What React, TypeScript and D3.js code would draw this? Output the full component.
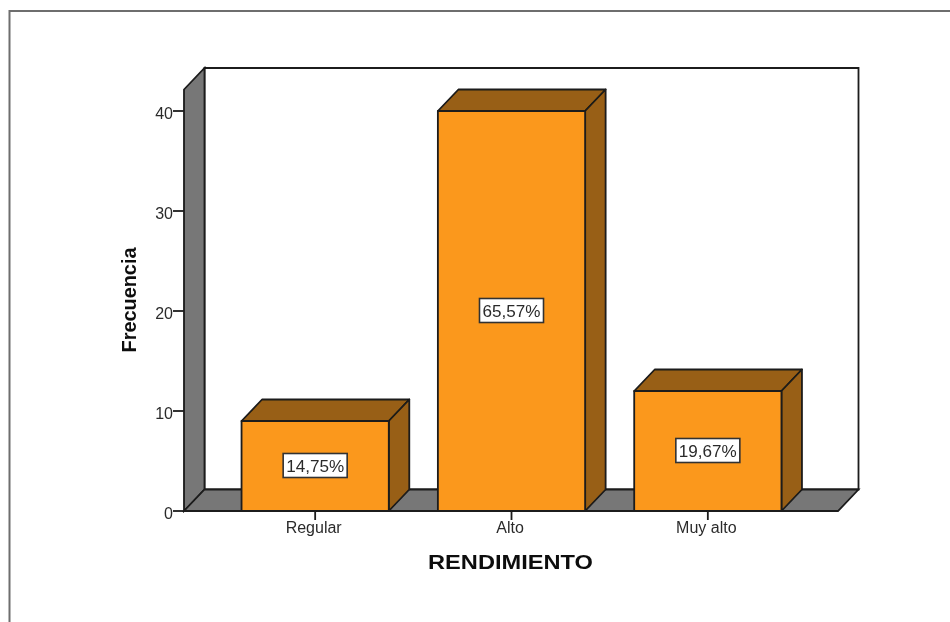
import * as d3 from 'd3'

const categories = ['Regular', 'Alto', 'Muy alto']
const frequencies = [9, 40, 12]
const percentLabels = ['14,75%', '65,57%', '19,67%']
const yTicks = [0, 10, 20, 30, 40]

const WIDTH = 950
const HEIGHT = 622
const DX = 20.5
const DY = 21.5
const STROKE = 1.8
const FONT = '"Liberation Sans", Arial, sans-serif'
const INK = '#1a1a1a'
const LABEL = '#2b2b2b'
const ORANGE = '#fb981c'
const BROWN = '#985e12'
const WALL = '#777777'

const plotLeft = 184
const plotRight = 838
const plotTop = 89.5

const x = d3.scaleBand<string>().domain(categories).range([217, 806]).paddingInner(0.25).paddingOuter(0.125)
const y = d3.scaleLinear().domain([0, 40]).range([511, 111])

function poly(points: [number, number][]): string {
  return d3.line()(points) + 'Z'
}

export default function App(): JSX.Element {
  const y0 = y(0)
  return (
    <svg
      width={WIDTH}
      height={HEIGHT}
      viewBox={`0 0 ${WIDTH} ${HEIGHT}`}
      style={{ position: 'absolute', left: 0, top: 0, display: 'block', background: '#fff' }}
    >
      <defs>
        {/* the source is a soft, slightly scaled screenshot */}
        <filter id="soft" x="0" y="0" width="100%" height="100%" filterUnits="objectBoundingBox">
          <feGaussianBlur stdDeviation={0.45} />
        </filter>
      </defs>
      <g filter="url(#soft)">
        <rect width={WIDTH} height={HEIGHT} fill="#fff" />
        {/* outer chart frame, cut off by the right and bottom edges */}
        <path d={`M9.5 ${HEIGHT + 5}V11H${WIDTH + 5}`} fill="none" stroke="#6e6e6e" strokeWidth={2} />

        {/* back wall, side wall, floor */}
        <path
          d={poly([[plotLeft + DX, plotTop - DY], [plotRight + DX, plotTop - DY], [plotRight + DX, y0 - DY], [plotLeft + DX, y0 - DY]])}
          fill="#fff"
          stroke={INK}
          strokeWidth={STROKE}
        />
        <path
          d={poly([[plotLeft, plotTop], [plotLeft + DX, plotTop - DY], [plotLeft + DX, y0 - DY], [plotLeft, y0]])}
          fill={WALL}
          stroke={INK}
          strokeWidth={STROKE}
        />
        <path
          d={poly([[plotLeft, y0], [plotLeft + DX, y0 - DY], [plotRight + DX, y0 - DY], [plotRight, y0]])}
          fill={WALL}
          stroke={INK}
          strokeWidth={STROKE}
        />

        {/* y axis */}
        {yTicks.map((t) => (
          <g key={t}>
            <line x1={plotLeft - 11} x2={plotLeft} y1={y(t)} y2={y(t)} stroke={INK} strokeWidth={STROKE} />
            <text x={plotLeft - 11} y={y(t) + 7.5} textAnchor="end" fontFamily={FONT} fontSize={16} fill={LABEL}>
              {t}
            </text>
          </g>
        ))}

        {/* bars */}
        {categories.map((c, i) => {
          const left = x(c) as number
          const right = left + x.bandwidth()
          const top = y(frequencies[i])
          return (
            <g key={c} stroke={INK} strokeWidth={STROKE} strokeLinejoin="round">
              <path d={poly([[left, top], [left + DX, top - DY], [right + DX, top - DY], [right, top]])} fill={BROWN} />
              <path d={poly([[right, top], [right + DX, top - DY], [right + DX, y0 - DY], [right, y0]])} fill={BROWN} />
              <rect x={left} y={top} width={x.bandwidth()} height={y0 - top} fill={ORANGE} />
            </g>
          )
        })}

        {/* percentage labels */}
        {categories.map((c, i) => {
          const cx = (x(c) as number) + x.bandwidth() / 2
          const cy = y(frequencies[i] / 2)
          return (
            <g key={c}>
              <rect x={cx - 32} y={cy - 12.5} width={64} height={24} fill="#fff" stroke="#333" strokeWidth={1.6} />
              <text
                x={cx}
                y={cy + 6}
                textAnchor="middle"
                fontFamily={FONT}
                fontSize={16}
                fill={LABEL}
                textLength={58}
                lengthAdjust="spacingAndGlyphs"
              >
                {percentLabels[i]}
              </text>
            </g>
          )
        })}

        {/* x axis */}
        <line x1={plotLeft} x2={plotRight} y1={y0} y2={y0} stroke={INK} strokeWidth={STROKE} />
        {categories.map((c) => {
          const cx = (x(c) as number) + x.bandwidth() / 2
          return (
            <g key={c}>
              <line x1={cx} x2={cx} y1={y0} y2={y0 + 9} stroke={INK} strokeWidth={STROKE} />
              <text x={cx - 1.5} y={y0 + 22} textAnchor="middle" fontFamily={FONT} fontSize={16} fill={LABEL}>
                {c}
              </text>
            </g>
          )
        })}

        {/* axis titles */}
        <text
          x={510.5}
          y={568.5}
          textAnchor="middle"
          fontFamily={FONT}
          fontWeight="bold"
          fontSize={21}
          fill="#111"
          textLength={165}
          lengthAdjust="spacingAndGlyphs"
        >
          RENDIMIENTO
        </text>
        <text
          transform="translate(135.5 300) rotate(-90)"
          textAnchor="middle"
          fontFamily={FONT}
          fontWeight="bold"
          fontSize={20}
          fill="#111"
          textLength={105}
          lengthAdjust="spacingAndGlyphs"
        >
          Frecuencia
        </text>
      </g>
    </svg>
  )
}
